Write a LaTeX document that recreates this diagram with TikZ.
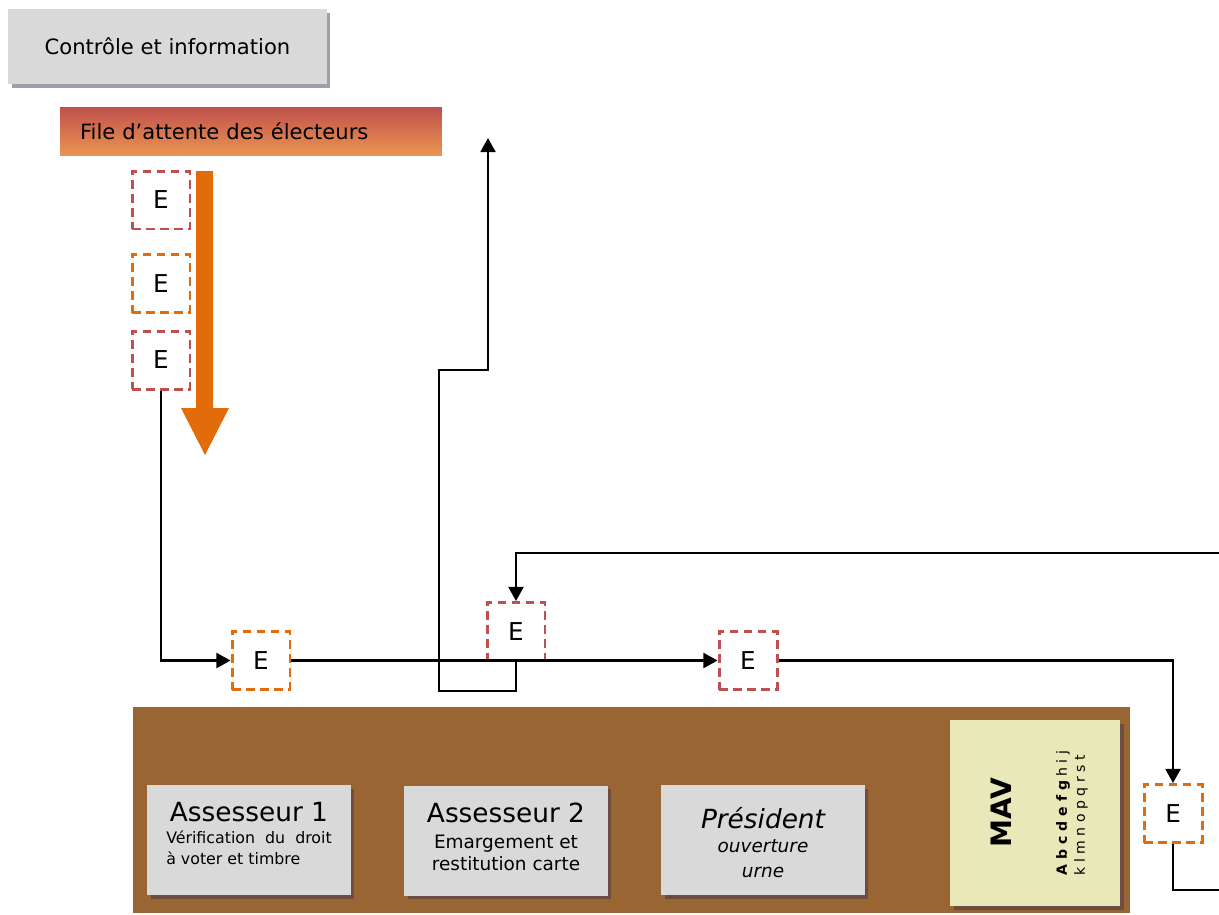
\documentclass[tikz,border=0pt]{standalone}
\usepackage{fontspec}
\setmainfont{DejaVu Sans}
\usetikzlibrary{arrows.meta,shadows}

\definecolor{boxgris}{HTML}{D9D9D9}
\definecolor{ombregris}{HTML}{A29CAB}
\definecolor{rougeE}{HTML}{C0504D}
\definecolor{orangeE}{HTML}{E36C0A}
\definecolor{fileorange}{HTML}{EA9550}
\definecolor{bureau}{HTML}{996633}
\definecolor{ombrebrun}{HTML}{6D4C41}
\definecolor{creme}{HTML}{E8E8B9}

\newcommand{\titreposte}{\fontsize{15}{18}\selectfont}
\newcommand{\sousposte}{\fontsize{10.5}{12.5}\selectfont}

\begin{document}
\begin{tikzpicture}[x=0.02cm, y=-0.02cm,
    electeur/.style={draw, dash pattern=on 5pt off 3pt, line width=1.7pt,
        minimum size=1.16cm, inner sep=0pt, font=\fontsize{14}{16}\selectfont},
    fleche/.style={line width=1.3pt, -{Triangle[length=8pt,width=8.5pt]}},
    ligne/.style={line width=1.3pt},
    poste/.style={fill=boxgris, minimum width=4.08cm, minimum height=2.2cm,
        drop shadow={fill=ombrebrun, opacity=1, shadow xshift=0.07cm, shadow yshift=-0.07cm}},
    postetexte/.style={align=center, inner sep=0pt, font=\sousposte}
]
    \path[fill=white, use as bounding box] (0,0) rectangle (1219,914);

    % en haut
    \node[fill=boxgris,
        minimum width=6.38cm,
        minimum height=1.5cm,
        font=\fontsize{12}{14}\selectfont,
        drop shadow={fill=ombregris, opacity=1, shadow xshift=0.07cm, shadow yshift=-0.08cm}]
        (info) at (167.5,46.5) {Contrôle et information};

    \node[top color=rougeE, bottom color=fileorange,
        minimum width=7.64cm,
        minimum height=0.96cm,
        text width=6.84cm,
        inner xsep=0.4cm,
        align=left,
        font=\fontsize{12}{14}\selectfont]
        (file) at (251,131) {File d’attente des électeurs};

    % file d'attente
    \node[electeur, draw=rougeE] (e1) at (161,200) {E};
    \node[electeur, draw=orangeE] (e2) at (161,283.5) {E};
    \node[electeur, draw=rougeE] (e3) at (161,360) {E};
    \fill[orangeE] (196,171) -- (213,171) -- (213,408) -- (229,408)
        -- (205,455) -- (181,408) -- (196,408) -- cycle;

    % bureau de vote
    \fill[bureau] (133,707) rectangle (1130,913);

    \node[poste] (ass1) at (249,840) {};
    \node[postetexte] (ass1texte) at ([yshift=2.2pt]ass1.center) {{\titreposte Assesseur 1}\\[0.3pt]
        \fontsize{9}{11.4}\selectfont\begin{tabular}[t]{@{}l@{}}Vérification\ \ du\ \ droit\\ à voter et timbre\end{tabular}};
    \node[poste] (ass2) at (506,840.5) {};
    \node[postetexte] (ass2texte) at ([yshift=2pt]ass2.center) {{\titreposte Assesseur 2}\\[2pt]
        Emargement et\\ restitution carte};
    \node[poste] (pres) at (763,840) {};
    \node[postetexte, font=\sousposte\itshape] (prestexte) at ([yshift=-1.4pt]pres.center) {{\titreposte Président}\\[1.3pt]
        ouverture\\[2pt] urne};

    \node[fill=creme,
        minimum width=3.4cm,
        minimum height=3.72cm,
        drop shadow={fill=ombrebrun, opacity=1, shadow xshift=0.07cm, shadow yshift=-0.07cm}]
        (mav) at (1035,813) {};
    \node[rotate=90, font=\bfseries\fontsize{16}{18}\selectfont] (mavtitre) at (1001,813) {MAV};
    \node[rotate=90, align=left, inner sep=0pt, font=\fontsize{8}{10.2}\selectfont]
        (alphabet) at (1072,813) {\textbf{A b c d e f g} h i j\\ k l m n o p q r s t};

    % parcours
    \node[electeur, draw=orangeE] (e4) at (261,660.5) {E};
    \node[electeur, draw=rougeE] (e5) at (516,631.5) {E};
    \node[electeur, draw=rougeE] (e6) at (748,660.5) {E};
    \node[electeur, draw=orangeE] (e7) at (1173,813.5) {E};

    \coordinate (sortieinfo) at (488,138);
    \coordinate (retour) at (1219,553);
    \coordinate (sortie) at (1219,890);

    \draw[fleche] (e3.south) |- (e4.west);
    \draw[fleche] (e4.east) -- (e6.west);
    \draw[fleche] (e5.south) -- ++(0,29) -| (439,370) -| (sortieinfo);
    \draw[fleche] (retour) -| (e5.north);
    \draw[fleche] (e6.east) -| (e7.north);
    \draw[ligne] (e7.south) |- (sortie);
\end{tikzpicture}
\end{document}
